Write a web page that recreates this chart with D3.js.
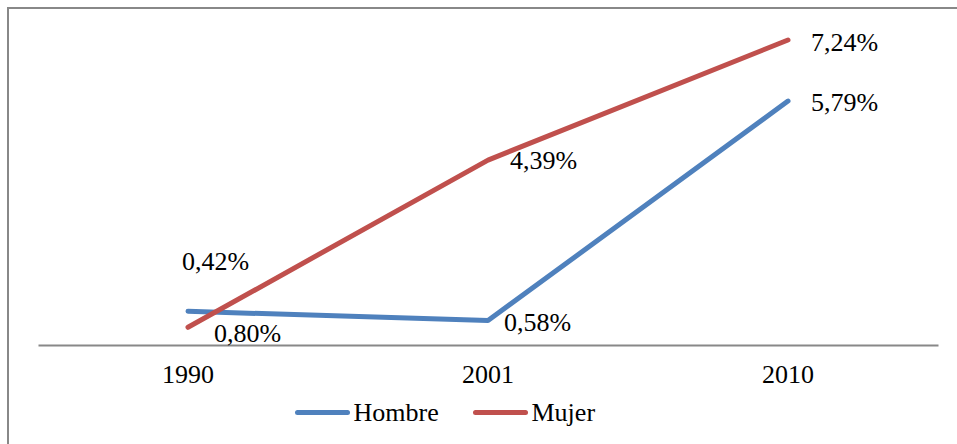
<!DOCTYPE html>
<html>
<head>
<meta charset="utf-8">
<script src="https://cdn.jsdelivr.net/npm/d3@7"></script>
</head>
<body style="margin:0;background:#fff">
<svg id="chart" width="957" height="444" style="display:block"></svg>
<script>
// datos
var years = ["1990", "2001", "2010"];
var hombre = [0.80, 0.58, 5.79];
var mujer = [0.42, 4.39, 7.24];
var seriesNames = ["Hombre", "Mujer"];
var labelHombre = ["0,80%", "0,58%", "5,79%"];
var labelMujer = ["0,42%", "4,39%", "7,24%"];

var font = "Liberation Serif";
var fontSize = 26;
var svg = d3.select("#chart")
  .attr("font-family", font)
  .attr("font-size", fontSize);
var cfg = { left: 38, right: 938, top: 40, bottom: 345 };
var colors = { Hombre: "#4F81BD", Mujer: "#C0504D" };

// marco (solo arriba e izquierda visibles)
svg.append("path")
  .attr("d", "M8,444V8H957")
  .attr("fill", "none")
  .attr("stroke", "#888")
  .attr("stroke-width", 2);

var x = d3.scaleBand().domain(years).range([cfg.left, cfg.right]);
var y = d3.scaleLinear().domain([0, 7.24]).range([cfg.bottom, cfg.top]);

var xAxis = svg.append("g")
  .attr("transform", "translate(0," + cfg.bottom + ")")
  .call(d3.axisBottom(x).tickSize(0).tickPadding(20));
xAxis.attr("font-family", font).attr("font-size", fontSize);
xAxis.select(".domain").attr("stroke", "#888").attr("stroke-width", 2);
xAxis.selectAll("text").attr("fill", "#000");

var line = d3.line()
  .x(function(d, i) { return x(years[i]) + x.bandwidth() / 2; })
  .y(function(d) { return y(d); });

var drawSeries = function(values, name) {
  svg.append("path")
    .datum(values)
    .attr("d", line)
    .attr("fill", "none")
    .attr("stroke", colors[name])
    .attr("stroke-width", 5)
    .attr("stroke-linecap", "round")
    .attr("stroke-linejoin", "round");
};
drawSeries(hombre, "Hombre");
drawSeries(mujer, "Mujer");

// etiquetas de datos (desplazamiento respecto al punto)
var cx = function(i) { return x(years[i]) + x.bandwidth() / 2; };
var hombreOff = [[26, 31], [16, 10], [23, 10]];
var mujerOff = [[-6, -57], [22, 9], [23, 11]];
var addLabel = function(px, py, txt) {
  svg.append("text")
    .attr("x", px)
    .attr("y", py)
    .attr("font-family", font)
    .attr("font-size", fontSize)
    .attr("fill", "#000")
    .text(txt);
};
hombre.forEach(function(v, i) {
  addLabel(cx(i) + hombreOff[i][0], y(v) + hombreOff[i][1], labelHombre[i]);
});
mujer.forEach(function(v, i) {
  addLabel(cx(i) + mujerOff[i][0], y(v) + mujerOff[i][1], labelMujer[i]);
});

// leyenda
var legend = svg.append("g").attr("transform", "translate(297.5,412.5)");
var legendX = [0, 178];
seriesNames.forEach(function(name, i) {
  var g = legend.append("g").attr("transform", "translate(" + legendX[i] + ",0)");
  g.append("line")
    .attr("x1", 0).attr("x2", 50)
    .attr("y1", 0).attr("y2", 0)
    .attr("stroke", colors[name])
    .attr("stroke-width", 5)
    .attr("stroke-linecap", "round");
  g.append("text")
    .attr("x", 56)
    .attr("y", 8.5)
    .attr("font-family", font)
    .attr("font-size", fontSize)
    .attr("fill", "#000")
    .text(name);
});
</script>
</body>
</html>
